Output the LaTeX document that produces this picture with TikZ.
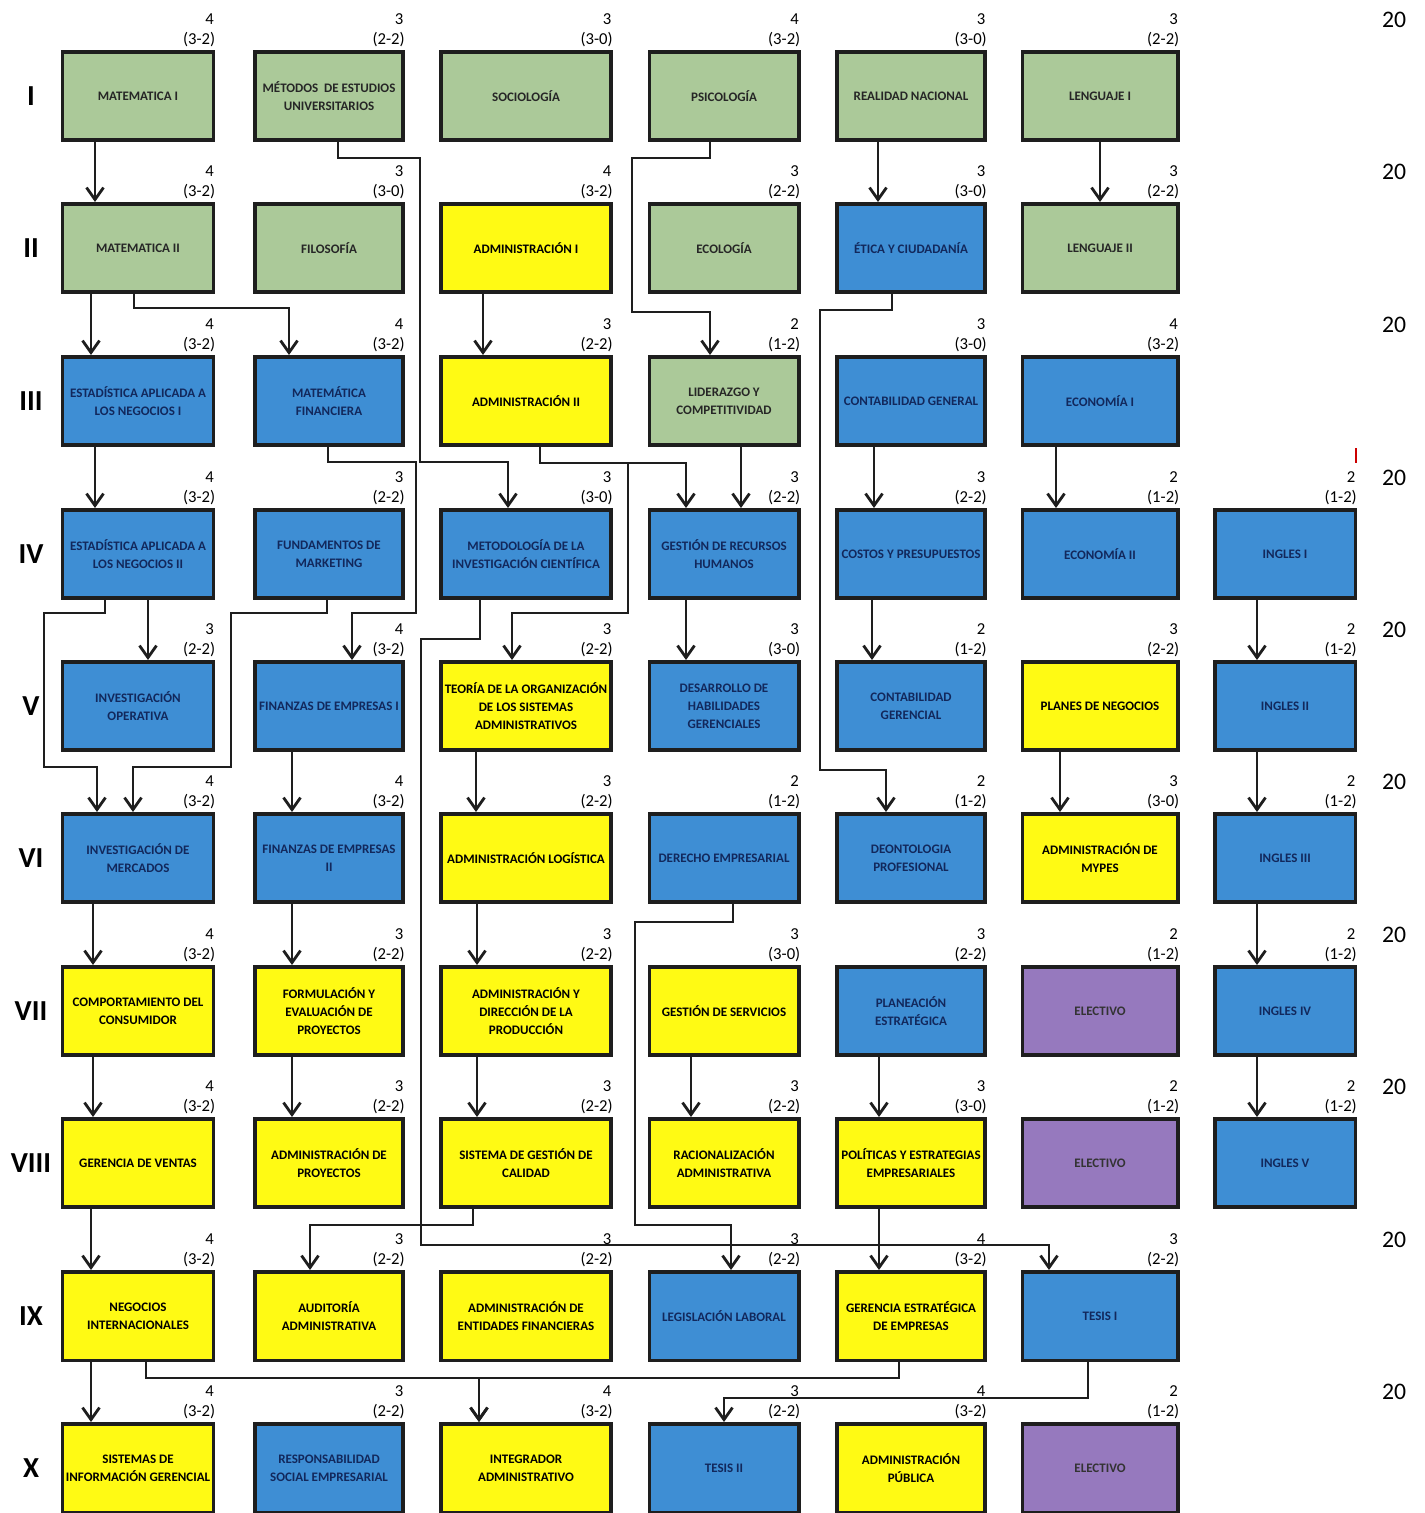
\documentclass[tikz,border=0pt]{standalone}
\usepackage{fontspec}
\setmainfont{Carlito}
\usetikzlibrary{arrows.meta, positioning, calc}
\definecolor{CursoVerde}{RGB}{171, 201, 153}
\definecolor{CursoAzul}{RGB}{62, 142, 212}
\definecolor{CursoAmarillo}{RGB}{255, 250, 20}
\definecolor{CursoMorado}{RGB}{150, 121, 190}
\definecolor{TextoAzul}{RGB}{18, 40, 92}
\definecolor{Borde}{RGB}{30, 30, 30}

\begin{document}
\begin{tikzpicture}[x=0.02cm, y=-0.02cm,
  curso/.style={draw=Borde, line width=2pt, font=\fontsize{7.4}{10.2}\selectfont\bfseries, align=center, minimum height=1.77cm, inner sep=1pt},
  verde/.style={curso, fill=CursoVerde, text=black!85},
  azul/.style={curso, fill=CursoAzul, text=TextoAzul},
  amar/.style={curso, fill=CursoAmarillo, text=black},
  morado/.style={curso, fill=CursoMorado, text=black!80},
  w1/.style={minimum width=3.03cm}, w2/.style={minimum width=2.97cm}, w3/.style={minimum width=3.41cm},
  w4/.style={minimum width=2.99cm}, w5/.style={minimum width=2.97cm}, w6/.style={minimum width=3.11cm},
  w7/.style={minimum width=2.81cm},
  credn/.style={anchor=center, xshift=-0.12cm, yshift=0.62cm, inner sep=0pt, draw=none, fill=none, text=black, font=\fontsize{9.5}{10}\selectfont},
  credh/.style={anchor=south east, xshift=0.02cm, yshift=1pt, inner sep=0.5pt, draw=none, fill=none, text=black, font=\fontsize{9.5}{10}\selectfont},
  cred/.style 2 args={label={[credn]north east:#1}, label={[credh]north east:(#2)}},
  sem/.style={font=\fontsize{16.5}{18}\selectfont\bfseries},
  tot/.style={font=\fontsize{13.5}{15}\selectfont},
  arr/.style={-{Straight Barb[length=2.4mm, width=3.4mm]}, draw=Borde, line width=1.6pt}]
\useasboundingbox (0,0) rectangle (1425,1513);
% semestres y totales
\node[sem] (sem1) at (31,96) {I};       \node[tot] (tot1) at (1394,20) {20};
\node[sem] (sem2) at (31,248) {II};     \node[tot] (tot2) at (1394,172) {20};
\node[sem] (sem3) at (31,401) {III};    \node[tot] (tot3) at (1394,325) {20};
\node[sem] (sem4) at (31,554) {IV};     \node[tot] (tot4) at (1394,478) {20};
\node[sem] (sem5) at (31,706) {V};      \node[tot] (tot5) at (1394,630) {20};
\node[sem] (sem6) at (31,858) {VI};     \node[tot] (tot6) at (1394,782) {20};
\node[sem] (sem7) at (31,1011) {VII};   \node[tot] (tot7) at (1394,935) {20};
\node[sem] (sem8) at (31,1163) {VIII};  \node[tot] (tot8) at (1394,1087) {20};
\node[sem] (sem9) at (31,1316) {IX};    \node[tot] (tot9) at (1394,1240) {20};
\node[sem] (sem10) at (31,1468) {X};    \node[tot] (tot10) at (1394,1392) {20};
\draw[red!80!black, line width=1.3pt] (1356,448) -- (1356,463);
% I
\node[verde, w1, cred={4}{3-2}] (mat1) at (138,96) {MATEMATICA I};
\node[verde, w2, cred={3}{2-2}] (metest) at (329,96) {MÉTODOS\ \ DE ESTUDIOS\\UNIVERSITARIOS};
\node[verde, w3, cred={3}{3-0}] (soc) at (526,96) {SOCIOLOGÍA};
\node[verde, w4, cred={4}{3-2}] (psi) at (724,96) {PSICOLOGÍA};
\node[verde, w5, cred={3}{3-0}] (realn) at (911,96) {REALIDAD NACIONAL};
\node[verde, w6, cred={3}{2-2}] (len1) at (1100,96) {LENGUAJE I};
% II
\node[verde, w1, cred={4}{3-2}] (mat2) at (138,248) {MATEMATICA II};
\node[verde, w2, cred={3}{3-0}] (filo) at (329,248) {FILOSOFÍA};
\node[amar, w3, cred={4}{3-2}] (adm1) at (526,248) {ADMINISTRACIÓN I};
\node[verde, w4, cred={3}{2-2}] (eco) at (724,248) {ECOLOGÍA};
\node[azul, w5, cred={3}{3-0}] (etica) at (911,248) {ÉTICA Y CIUDADANÍA};
\node[verde, w6, cred={3}{2-2}] (len2) at (1100,248) {LENGUAJE II};
% III
\node[azul, w1, cred={4}{3-2}] (est1) at (138,401) {ESTADÍSTICA APLICADA A\\LOS NEGOCIOS I};
\node[azul, w2, cred={4}{3-2}] (matfin) at (329,401) {MATEMÁTICA\\FINANCIERA};
\node[amar, w3, cred={3}{2-2}] (adm2) at (526,401) {ADMINISTRACIÓN II};
\node[verde, w4, cred={2}{1-2}] (lider) at (724,401) {LIDERAZGO Y\\COMPETITIVIDAD};
\node[azul, w5, cred={3}{3-0}] (contg) at (911,401) {CONTABILIDAD GENERAL};
\node[azul, w6, cred={4}{3-2}] (econ1) at (1100,401) {ECONOMÍA I};
% IV
\node[azul, w1, cred={4}{3-2}] (est2) at (138,554) {ESTADÍSTICA APLICADA A\\LOS NEGOCIOS II};
\node[azul, w2, cred={3}{2-2}] (fundm) at (329,554) {FUNDAMENTOS DE\\MARKETING};
\node[azul, w3, cred={3}{3-0}] (metinv) at (526,554) {METODOLOGÍA DE LA\\INVESTIGACIÓN CIENTÍFICA};
\node[azul, w4, cred={3}{2-2}] (grh) at (724,554) {GESTIÓN DE RECURSOS\\HUMANOS};
\node[azul, w5, cred={3}{2-2}] (costos) at (911,554) {COSTOS Y PRESUPUESTOS};
\node[azul, w6, cred={2}{1-2}] (econ2) at (1100,554) {ECONOMÍA II};
\node[azul, w7, cred={2}{1-2}] (ing1) at (1285,554) {INGLES I};
% V
\node[azul, w1, cred={3}{2-2}] (invop) at (138,706) {INVESTIGACIÓN\\OPERATIVA};
\node[azul, w2, cred={4}{3-2}] (fin1) at (329,706) {FINANZAS DE EMPRESAS I};
\node[amar, w3, cred={3}{2-2}] (teoria) at (526,706) {TEORÍA DE LA ORGANIZACIÓN\\DE LOS SISTEMAS\\ADMINISTRATIVOS};
\node[azul, w4, cred={3}{3-0}] (deshab) at (724,706) {DESARROLLO DE\\HABILIDADES\\GERENCIALES};
\node[azul, w5, cred={2}{1-2}] (contger) at (911,706) {CONTABILIDAD\\GERENCIAL};
\node[amar, w6, cred={3}{2-2}] (planes) at (1100,706) {PLANES DE NEGOCIOS};
\node[azul, w7, cred={2}{1-2}] (ing2) at (1285,706) {INGLES II};
% VI
\node[azul, w1, cred={4}{3-2}] (invmer) at (138,858) {INVESTIGACIÓN DE\\MERCADOS};
\node[azul, w2, cred={4}{3-2}] (fin2) at (329,858) {FINANZAS DE EMPRESAS\\II};
\node[amar, w3, cred={3}{2-2}] (admlog) at (526,858) {ADMINISTRACIÓN LOGÍSTICA};
\node[azul, w4, cred={2}{1-2}] (derecho) at (724,858) {DERECHO EMPRESARIAL};
\node[azul, w5, cred={2}{1-2}] (deonto) at (911,858) {DEONTOLOGIA\\PROFESIONAL};
\node[amar, w6, cred={3}{3-0}] (mypes) at (1100,858) {ADMINISTRACIÓN DE\\MYPES};
\node[azul, w7, cred={2}{1-2}] (ing3) at (1285,858) {INGLES III};
% VII
\node[amar, w1, cred={4}{3-2}] (comport) at (138,1011) {COMPORTAMIENTO DEL\\CONSUMIDOR};
\node[amar, w2, cred={3}{2-2}] (formul) at (329,1011) {FORMULACIÓN Y\\EVALUACIÓN DE\\PROYECTOS};
\node[amar, w3, cred={3}{2-2}] (admdir) at (526,1011) {ADMINISTRACIÓN Y\\DIRECCIÓN DE LA\\PRODUCCIÓN};
\node[amar, w4, cred={3}{3-0}] (gserv) at (724,1011) {GESTIÓN DE SERVICIOS};
\node[azul, w5, cred={3}{2-2}] (planea) at (911,1011) {PLANEACIÓN\\ESTRATÉGICA};
\node[morado, w6, cred={2}{1-2}] (elec7) at (1100,1011) {ELECTIVO};
\node[azul, w7, cred={2}{1-2}] (ing4) at (1285,1011) {INGLES IV};
% VIII
\node[amar, w1, cred={4}{3-2}] (gventas) at (138,1163) {GERENCIA DE VENTAS};
\node[amar, w2, cred={3}{2-2}] (admproy) at (329,1163) {ADMINISTRACIÓN DE\\PROYECTOS};
\node[amar, w3, cred={3}{2-2}] (sgc) at (526,1163) {SISTEMA DE GESTIÓN DE\\CALIDAD};
\node[amar, w4, cred={3}{2-2}] (racio) at (724,1163) {RACIONALIZACIÓN\\ADMINISTRATIVA};
\node[amar, w5, cred={3}{3-0}] (polit) at (911,1163) {POLÍTICAS Y ESTRATEGIAS\\EMPRESARIALES};
\node[morado, w6, cred={2}{1-2}] (elec8) at (1100,1163) {ELECTIVO};
\node[azul, w7, cred={2}{1-2}] (ing5) at (1285,1163) {INGLES V};
% IX
\node[amar, w1, cred={4}{3-2}] (negint) at (138,1316) {NEGOCIOS\\INTERNACIONALES};
\node[amar, w2, cred={3}{2-2}] (audit) at (329,1316) {AUDITORÍA\\ADMINISTRATIVA};
\node[amar, w3, cred={3}{2-2}] (adment) at (526,1316) {ADMINISTRACIÓN DE\\ENTIDADES FINANCIERAS};
\node[azul, w4, cred={3}{2-2}] (legis) at (724,1316) {LEGISLACIÓN LABORAL};
\node[amar, w5, cred={4}{3-2}] (gerest) at (911,1316) {GERENCIA ESTRATÉGICA\\DE EMPRESAS};
\node[azul, w6, cred={3}{2-2}] (tesis1) at (1100,1316) {TESIS I};
% X
\node[amar, w1, cred={4}{3-2}] (sig) at (138,1468) {SISTEMAS DE\\INFORMACIÓN GERENCIAL};
\node[azul, w2, cred={3}{2-2}] (rse) at (329,1468) {RESPONSABILIDAD\\SOCIAL EMPRESARIAL};
\node[amar, w3, cred={4}{3-2}] (integ) at (526,1468) {INTEGRADOR\\ADMINISTRATIVO};
\node[azul, w4, cred={3}{2-2}] (tesis2) at (724,1468) {TESIS II};
\node[amar, w5, cred={4}{3-2}] (admpub) at (911,1468) {ADMINISTRACIÓN\\PÚBLICA};
\node[morado, w6, cred={2}{1-2}] (elec10) at (1100,1468) {ELECTIVO};
% prerrequisitos
\draw[arr] (mat1.south -| 95,0) -- (mat2.north -| 95,0);
\draw[arr] (realn.south -| 878,0) -- (etica.north -| 878,0);
\draw[arr] (len1) -- (len2);
\draw[arr] (metest.south -| 338,0) |- (420,158) |- (508,462) -- (metinv.north -| 508,0);
\draw[arr] (psi.south -| 710,0) |- (632,158) |- (710,312) -- (lider.north -| 710,0);
\draw[arr] (mat2.south -| 91,0) -- (est1.north -| 91,0);
\draw[arr] (mat2.south -| 134,0) |- (289,308) -- (matfin.north -| 289,0);
\draw[arr] (adm1.south -| 483,0) -- (adm2.north -| 483,0);
\draw[arr] (etica.south -| 892,0) |- (820,310) |- (886,770) -- (deonto.north -| 886,0);
\draw[arr] (est1.south -| 95,0) -- (est2.north -| 95,0);
\draw[arr] (matfin.south -| 328,0) |- (416,462) |- (352,613) -- (fin1.north -| 352,0);
\draw[arr] (adm2.south -| 540,0) |- (686,463) -- (grh.north -| 686,0);
\draw[arr] (adm2.south -| 540,0) |- (628,463) |- (512,613) -- (teoria.north -| 512,0);
\draw[arr] (lider.south -| 741,0) -- (grh.north -| 741,0);
\draw[arr] (contg.south -| 874,0) -- (costos.north -| 874,0);
\draw[arr] (econ1.south -| 1056,0) -- (econ2.north -| 1056,0);
\draw[arr] (est2.south -| 148,0) -- (invop.north -| 148,0);
\draw[arr] (est2.south -| 105,0) |- (44,613) |- (97,767) -- (invmer.north -| 97,0);
\draw[arr] (fundm.south -| 327,0) |- (231,613) |- (133,767) -- (invmer.north -| 133,0);
\draw[arr] (metinv.south -| 480,0) |- (421,639) |- (1049,1245) -- (tesis1.north -| 1049,0);
\draw[arr] (grh.south -| 686,0) -- (deshab.north -| 686,0);
\draw[arr] (costos.south -| 872,0) -- (contger.north -| 872,0);
\draw[arr] (ing1.south -| 1257,0) -- (ing2.north -| 1257,0);
\draw[arr] (fin1.south -| 292,0) -- (fin2.north -| 292,0);
\draw[arr] (teoria.south -| 476,0) -- (admlog.north -| 476,0);
\draw[arr] (planes.south -| 1060,0) -- (mypes.north -| 1060,0);
\draw[arr] (ing2.south -| 1257,0) -- (ing3.north -| 1257,0);
\draw[arr] (invmer.south -| 93,0) -- (comport.north -| 93,0);
\draw[arr] (fin2.south -| 292,0) -- (formul.north -| 292,0);
\draw[arr] (admlog.south -| 477,0) -- (admdir.north -| 477,0);
\draw[arr] (derecho.south -| 733,0) |- (635,922) |- (731,1225) -- (legis.north -| 731,0);
\draw[arr] (ing3.south -| 1257,0) -- (ing4.north -| 1257,0);
\draw[arr] (comport.south -| 93,0) -- (gventas.north -| 93,0);
\draw[arr] (formul.south -| 292,0) -- (admproy.north -| 292,0);
\draw[arr] (admdir.south -| 477,0) -- (sgc.north -| 477,0);
\draw[arr] (gserv.south -| 691,0) -- (racio.north -| 691,0);
\draw[arr] (planea.south -| 879,0) -- (polit.north -| 879,0);
\draw[arr] (ing4.south -| 1257,0) -- (ing5.north -| 1257,0);
\draw[arr] (gventas.south -| 91,0) -- (negint.north -| 91,0);
\draw[arr] (sgc.south -| 473,0) |- (310,1225) -- (audit.north -| 310,0);
\draw[arr] (polit.south -| 879,0) -- (gerest.north -| 879,0);
\draw[arr] (negint.south -| 91,0) -- (sig.north -| 91,0);
\draw[arr] (negint.south -| 146,0) |- (479,1378) -- (integ.north -| 479,0);
\draw[arr] (gerest.south -| 899,0) |- (479,1378) -- (integ.north -| 479,0);
\draw[arr] (tesis1.south -| 1088,0) |- (724,1398) -- (tesis2.north -| 724,0);
\end{tikzpicture}
\end{document}
